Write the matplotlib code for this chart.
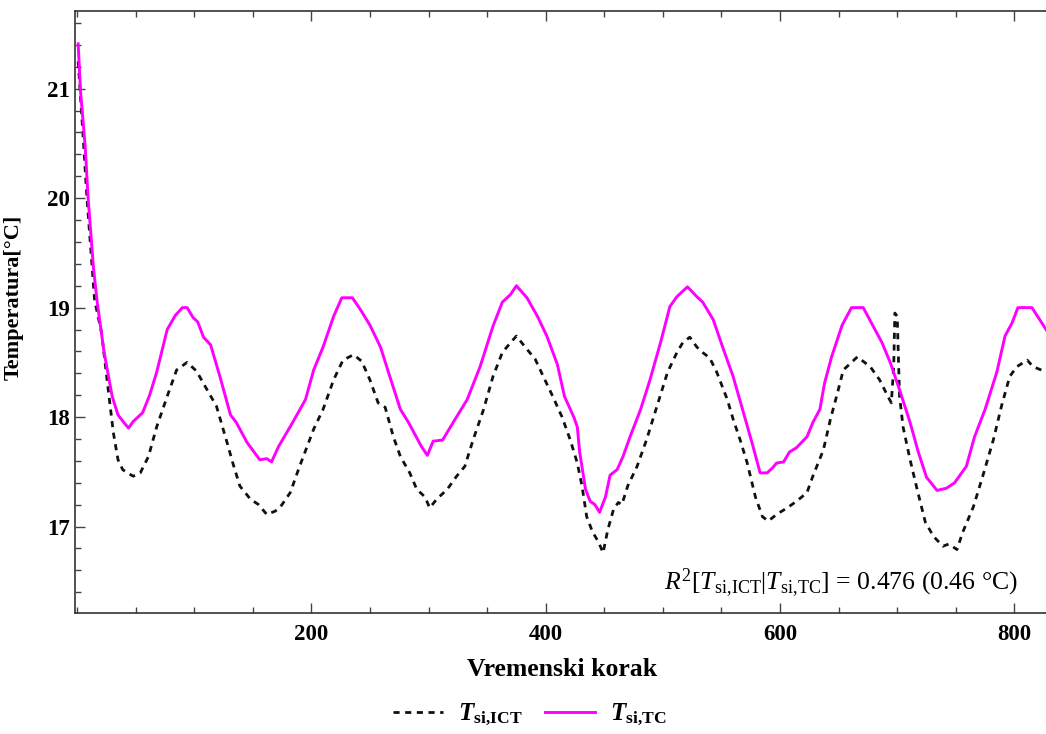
import matplotlib
matplotlib.use("Agg")
import matplotlib.pyplot as plt
from matplotlib.ticker import MultipleLocator

# Serif look (Times-like) for everything, including mathtext
plt.rcParams['font.family'] = ['Liberation Serif', 'DejaVu Serif']
plt.rcParams['mathtext.fontset'] = 'custom'
plt.rcParams['mathtext.rm'] = 'Liberation Serif'
plt.rcParams['mathtext.it'] = 'Liberation Serif:italic'
plt.rcParams['mathtext.bf'] = 'Liberation Serif:bold'
plt.rcParams['mathtext.bfit'] = 'Liberation Serif:bold:italic'

# T_si,TC (magenta, solid)
x_tc = [1, 3, 7, 9.5, 14, 17, 23, 30, 35, 40, 44, 48, 52, 56, 62, 68, 77, 84, 90, 94, 99,
        103, 108, 114, 122, 131, 136, 145, 156, 162, 166, 172, 184, 195, 202, 210, 219,
        226, 235, 242, 250, 259, 267, 276, 283, 291, 294, 299, 304, 312, 321, 333, 344,
        355, 363, 370, 375, 384, 393, 401, 410, 416, 424, 427, 429, 434, 438, 442, 446,
        451, 455, 461, 466, 472, 481, 489, 498, 506, 512, 521, 529, 534, 543, 551, 560,
        568, 577, 583, 589, 594, 597, 603, 608, 614, 623, 628, 634, 638, 644, 653, 661,
        671, 678, 687, 694, 702, 711, 718, 725, 734, 742, 749, 759, 766, 775, 785, 792,
        798, 803, 815, 830]
y_tc = [21.41, 20.98, 20.47, 20.0, 19.37, 19.07, 18.6, 18.19, 18.02, 17.95, 17.9, 17.96,
        18.0, 18.04, 18.2, 18.41, 18.8, 18.93, 19.0, 19.0, 18.91, 18.87, 18.73, 18.66,
        18.37, 18.02, 17.95, 17.77, 17.61, 17.62, 17.59, 17.73, 17.95, 18.16, 18.43, 18.64,
        18.92, 19.09, 19.09, 18.98, 18.84, 18.64, 18.37, 18.07, 17.95, 17.79, 17.73, 17.65,
        17.78, 17.79, 17.95, 18.16, 18.46, 18.83, 19.05, 19.12, 19.2, 19.09, 18.92, 18.74,
        18.48, 18.19, 18.0, 17.91, 17.68, 17.34, 17.23, 17.2, 17.13, 17.27, 17.47, 17.52,
        17.64, 17.82, 18.07, 18.34, 18.68, 19.01, 19.1, 19.19, 19.1, 19.05, 18.89, 18.64,
        18.37, 18.07, 17.73, 17.49, 17.49, 17.54, 17.58, 17.59, 17.68, 17.72, 17.82, 17.95,
        18.07, 18.31, 18.55, 18.84, 19.0, 19.0, 18.86, 18.68, 18.5, 18.25, 17.95, 17.68,
        17.45, 17.33, 17.35, 17.4, 17.55, 17.82, 18.07, 18.41, 18.74, 18.86, 19.0, 19.0,
        18.75]

# T_si,ICT (black, dashed)
x_ict = [1, 5, 8.5, 15, 21, 26, 31, 35, 39, 43, 48, 54, 61, 68, 77, 85, 94, 102, 111, 119,
         128, 133, 139, 148, 155, 162, 169, 173, 182, 190, 202, 210, 219, 227, 236, 243,
         250, 257, 263, 270, 276, 284, 290, 297, 301, 307, 316, 324, 331, 338, 347, 355,
         363, 370, 375, 384, 391, 398, 406, 414, 421, 427, 431, 435, 440, 445, 449, 453,
         458, 462, 465, 470, 478, 486, 495, 504, 512, 517, 523, 529, 534, 540, 546, 555,
         560, 566, 572, 579, 585, 590, 597, 606, 614, 623, 628, 637, 643, 649, 654, 666,
         677, 685, 692, 695, 697, 698, 700, 702, 705, 711, 717, 724, 731, 739, 744, 751,
         756, 765, 773, 782, 789, 796, 802, 811, 816, 830]
y_ict = [21.25, 20.6, 20.0, 19.07, 18.77, 18.31, 17.86, 17.61, 17.52, 17.49, 17.46, 17.49,
         17.64, 17.91, 18.19, 18.43, 18.5, 18.42, 18.25, 18.1, 17.77, 17.58, 17.37, 17.25,
         17.2, 17.11, 17.14, 17.17, 17.31, 17.55, 17.89, 18.07, 18.34, 18.52, 18.57, 18.51,
         18.34, 18.13, 18.09, 17.82, 17.64, 17.49, 17.34, 17.27, 17.17, 17.25, 17.34, 17.46,
         17.55, 17.79, 18.07, 18.37, 18.59, 18.68, 18.74, 18.62, 18.53, 18.37, 18.19, 18.0,
         17.79, 17.58, 17.37, 17.09, 16.95, 16.86, 16.76, 16.97, 17.16, 17.22, 17.2, 17.37,
         17.55, 17.79, 18.1, 18.41, 18.59, 18.68, 18.73, 18.64, 18.59, 18.54, 18.41, 18.16,
         17.98, 17.79, 17.58, 17.27, 17.09, 17.05, 17.11, 17.17, 17.23, 17.31, 17.46, 17.7,
         17.98, 18.22, 18.43, 18.55, 18.46, 18.34, 18.19, 18.13, 18.46, 18.95, 18.92, 18.19,
         17.91, 17.61, 17.34, 17.04, 16.91, 16.82, 16.84, 16.79, 16.95, 17.18, 17.46, 17.79,
         18.1, 18.37, 18.46, 18.52, 18.46, 18.4]

x_ticks = [200, 400, 600, 800]
y_ticks = [17, 18, 19, 20, 21]

label_ict = r'$\mathbfit{T}_{\mathbf{si,\!ICT}}$'
label_tc = r'$\mathbfit{T}_{\mathbf{si,\!TC}}$'
note = r'$R^2[T_{\mathrm{si,\!ICT}}|T_{\mathrm{si,\!TC}}]$ = 0.476 (0.46 °C)'

W, H = 1046, 734
fig = plt.figure(figsize=(W / 100, H / 100), dpi=100)
# axes frame: left 75 px, top 11 px, bottom 613 px, right runs off the image
ax = fig.add_axes([75 / W, 1 - 613 / H, (1050 - 75) / W, (613 - 11) / H])

ax.plot(x_ict, y_ict, color='#111111', lw=2.0, linestyle=(0, (2.2, 2.0)), label=label_ict)
ax.plot(x_tc, y_tc, color='#ff00ff', lw=2.1, label=label_tc)

ax.set_xlim(-1.7, 830.4)
ax.set_ylim(16.21, 21.71)

ax.xaxis.set_minor_locator(MultipleLocator(50))
ax.yaxis.set_minor_locator(MultipleLocator(0.2))
ax.set_xticks(x_ticks)
ax.set_xticklabels([str(v) for v in x_ticks], fontweight='bold')
ax.set_yticks(y_ticks)
ax.set_yticklabels([str(v) for v in y_ticks], fontweight='bold')
ax.tick_params(which='both', direction='in', top=True, right=False, labeltop=False,
               width=1.0, colors='#444444', labelcolor='black')
ax.tick_params(which='major', length=7, labelsize=16.5)
ax.tick_params(axis='x', which='major', pad=8)
ax.tick_params(which='minor', length=4)

for s in ax.spines.values():
    s.set_color('#333333')
    s.set_linewidth(1.2)
ax.spines['right'].set_visible(False)

ax.set_xlabel('Vremenski korak', fontsize=18.5, fontweight='bold')
ax.set_ylabel('Temperatura[°C]', fontsize=16, fontweight='bold')
ax.xaxis.set_label_coords(0.50, -0.075)
ax.yaxis.set_label_coords(-0.053, 0.525)

fig.text(1018 / W, 1 - 590 / H, note, fontsize=18.5, ha='right', va='baseline')

fig.legend(loc='center', bbox_to_anchor=(530 / W, 1 - 715 / H), ncol=2, frameon=False,
           fontsize=18, handlelength=2.0, columnspacing=0.9, handletextpad=0.6)

fig.savefig('out.png', dpi=100)
